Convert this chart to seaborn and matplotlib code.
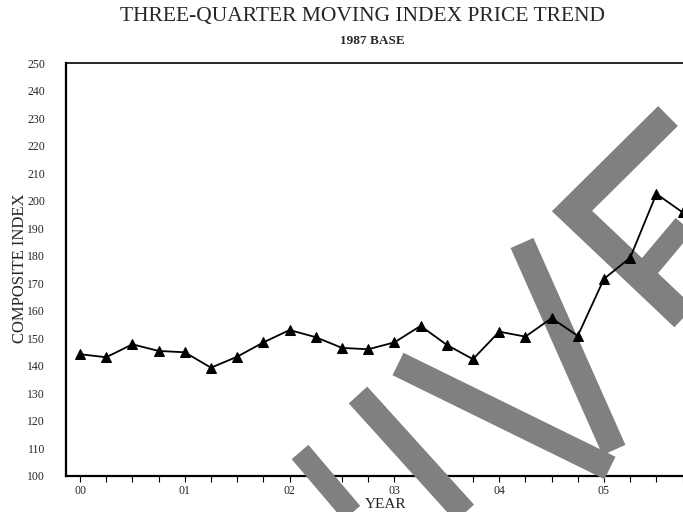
import matplotlib
matplotlib.use("Agg")
import matplotlib.pyplot as plt
from matplotlib.lines import Line2D
from matplotlib.ticker import MultipleLocator
import pandas as pd
import seaborn as sns

# quarterly points, x in years since 2000
year_pos = [0.00, 0.25, 0.50, 0.75, 1.00, 1.25, 1.50, 1.75,
            2.00, 2.25, 2.50, 2.75, 3.00, 3.25, 3.50, 3.75,
            4.00, 4.25, 4.50, 4.75, 5.00, 5.25, 5.50, 5.75]
composite_index = [144.1, 143.0, 147.7, 145.3, 144.8, 139.2, 143.2, 148.4,
                   152.9, 150.3, 146.4, 145.9, 148.4, 154.4, 147.5, 142.3,
                   152.3, 150.5, 157.2, 150.8, 171.5, 179.2, 202.4, 195.7]
year_ticks = [0, 1, 2, 3, 4, 5]
year_labels = ["00", "01", "02", "03", "04", "05"]
index_ticks = list(range(100, 251, 10))

df = pd.DataFrame({"year": year_pos, "index": composite_index})

sns.set_style("white")
plt.rcParams["font.family"] = ["Liberation Serif", "DejaVu Serif"]

W, H = 683, 512
fig = plt.figure(figsize=(W / 100, H / 100), dpi=100)
ax = fig.add_axes([66 / W, 1 - 475.5 / H, (705 - 66) / W, (475.5 - 63) / H])

sns.lineplot(data=df, x="year", y="index", ax=ax, color="black",
             marker="^", markersize=7, markeredgecolor="black",
             linewidth=1.3, zorder=3)

ax.set_xlim(-0.1336, 5.964)
ax.set_ylim(100, 250)
ax.set_xticks(year_ticks)
ax.set_xticklabels(year_labels)
ax.xaxis.set_minor_locator(MultipleLocator(0.25))
ax.set_yticks(index_ticks)
ax.set_xlabel("")
ax.set_ylabel("")
ax.tick_params(axis="x", which="both", direction="out", length=4, width=0.8,
               color="black", labelsize=8.5, pad=3, bottom=True)
ax.tick_params(axis="y", length=0, labelsize=8.5, pad=15)

ax.spines["right"].set_visible(False)
ax.spines["top"].set_linewidth(1.2)
ax.spines["left"].set_linewidth(1.6)
ax.spines["bottom"].set_linewidth(1.6)
for s in ax.spines.values():
    s.set_color("black")

fig.text(362 / W, 1 - 17 / H, "THREE-QUARTER MOVING INDEX PRICE TREND",
         ha="center", va="center", fontsize=15.5)
fig.text(372 / W, 1 - 41 / H, "1987 BASE", ha="center", va="center",
         fontsize=9.5, fontweight="bold")
fig.text(386 / W, 1 - 505 / H, "YEAR", ha="center", va="center", fontsize=11)
fig.text(20 / W, 1 - 268 / H, "COMPOSITE INDEX", ha="center", va="center",
         rotation=90, fontsize=12)

# grey watermark strokes across the page (pixel positions on the page)
wm_strokes = [
    ([(300, 452), (368, 532)], 22),
    ([(358, 395), (482, 532)], 25),
    ([(398, 364), (610, 468)], 25),
    ([(522, 243), (614, 450)], 25),
    ([(668, 116), (572, 211), (705, 337)], 28),
    ([(705, 200), (648, 268)], 22),
]
for pts, w in wm_strokes:
    xs = [p[0] / W for p in pts]
    ys = [1 - p[1] / H for p in pts]
    ax.add_line(Line2D(xs, ys, transform=fig.transFigure, color="#808080",
                       linewidth=w * 0.72, solid_capstyle="butt",
                       solid_joinstyle="miter", zorder=2.6, clip_on=False))

fig.savefig("out.png", dpi=100)
